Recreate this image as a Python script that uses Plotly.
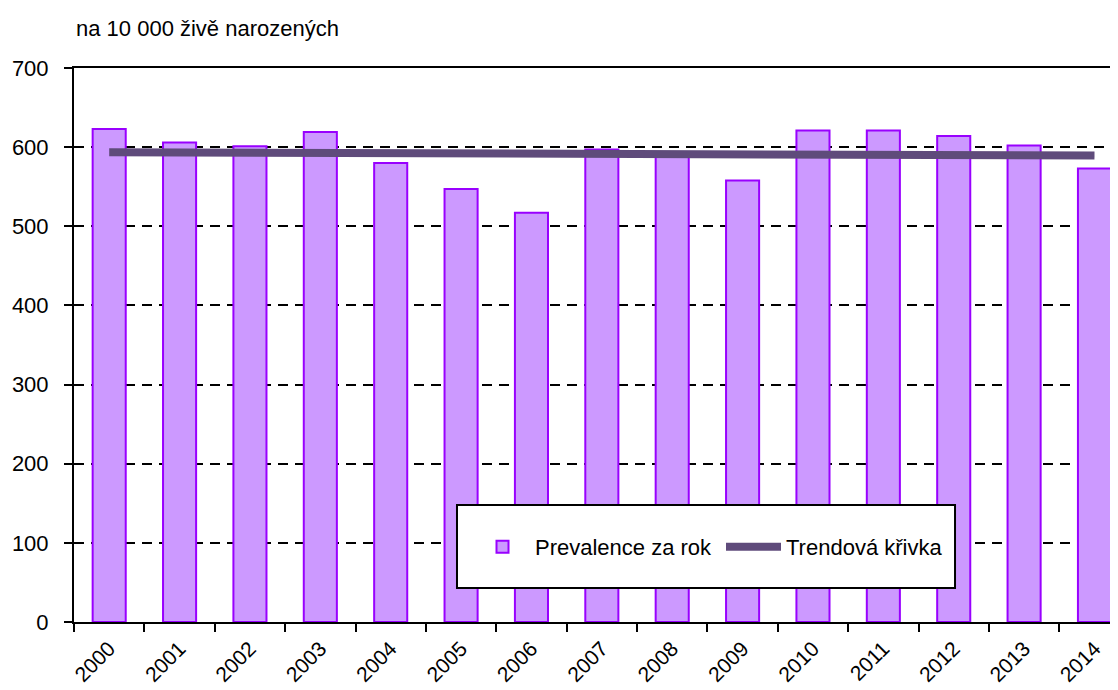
import plotly.graph_objects as go

years = [str(y) for y in range(2000, 2015)]
prevalence = [623, 606, 601, 619, 580, 547, 517, 597, 592, 558, 621, 621, 614, 602, 573]
trend = [593.5, 593.2, 592.9, 592.6, 592.4, 592.1, 591.8, 591.5, 591.2, 590.9, 590.6, 590.4, 590.1, 589.8, 589.5]

FONT = "Liberation Sans, Arial, sans-serif"

fig = go.Figure()
fig.add_trace(go.Bar(
    x=years, y=prevalence, name="Prevalence za rok",
    marker=dict(color="#cc99ff", line=dict(color="#9900ff", width=2)),
))
fig.add_trace(go.Scatter(
    x=years, y=trend, name="Trendová křivka", mode="lines",
    line=dict(color="#5f4b7b", width=8),
))

# legend box (white panel with black border)
fig.add_shape(type="rect", xref="paper", yref="paper",
              x0=0.3672, x1=0.8447, y0=0.0614, y1=0.2112,
              fillcolor="white", line=dict(color="black", width=2), layer="above")

fig.add_annotation(text="na 10 000 živě narozených", xref="paper", yref="paper",
                   x=0.0, y=1.072, xanchor="left", yanchor="middle", showarrow=False,
                   font=dict(family=FONT, size=22, color="black"))

fig.update_layout(
    width=1118, height=690,
    margin=dict(l=66, r=9, t=60, b=76),
    paper_bgcolor="white", plot_bgcolor="white",
    bargap=0.53,
    font=dict(family=FONT, size=20, color="black"),
    showlegend=True,
    legend=dict(orientation="h", x=(470 - 74) / 1043, y=0.1354, xanchor="left", yanchor="middle",
                bgcolor="rgba(0,0,0,0)", borderwidth=0,
                font=dict(family=FONT, size=22, color="black"),
                itemwidth=55, entrywidth=181, entrywidthmode="pixels",
                traceorder="normal"),
)
fig.update_xaxes(
    type="category", range=[-0.5, 14.32], automargin=False,
    showline=True, linecolor="black", linewidth=2, mirror=True,
    ticks="outside", ticklen=8, tickwidth=2, tickcolor="black",
    tickson="boundaries", tickangle=-45, ticklabelstandoff=4,
    tickfont=dict(family=FONT, size=21, color="black"),
    showgrid=False,
)
fig.update_yaxes(
    range=[0, 700], dtick=100, automargin=False,
    showline=True, linecolor="black", linewidth=2,
    ticks="outside", ticklen=8, tickwidth=2, tickcolor="black",
    ticklabelstandoff=11,
    tickfont=dict(family=FONT, size=22, color="black"),
    showgrid=True, gridcolor="black", gridwidth=2, griddash="10px,7px",
    zeroline=False,
)

fig.write_html("out.html")
